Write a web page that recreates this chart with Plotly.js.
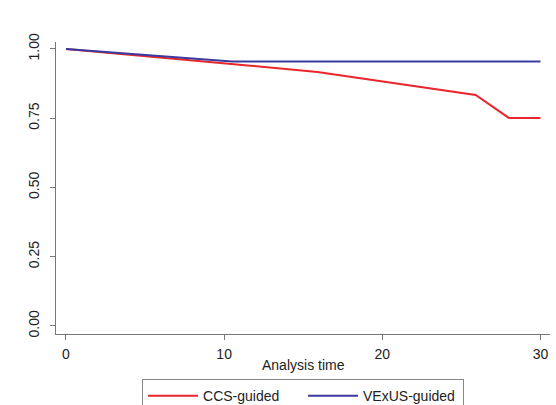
<!DOCTYPE html>
<html><head><meta charset="utf-8">
<script src="https://cdn.plot.ly/plotly-3.0.1.min.js"></script>
<style>html,body{margin:0;padding:0;background:#fff}#chart{width:556px;height:405px}</style>
</head><body><div id="chart"></div>
<script>
const ccsTime = [0, 15.9, 25.9, 28.0, 30];
const ccsSurv = [1.0, 0.917, 0.834, 0.751, 0.751];
const vexusTime = [0, 10.5, 30];
const vexusSurv = [1.0, 0.955, 0.955];
const yTicks = [0, 0.25, 0.5, 0.75, 1.0];
const xTicks = [0, 10, 20, 30];
const xTitle = 'Analysis time';

const traces = [
  {x: ccsTime, y: ccsSurv, type: 'scatter', mode: 'lines', name: 'CCS-guided',
   line: {color: '#e8262c', width: 2}},
  {x: vexusTime, y: vexusSurv, type: 'scatter', mode: 'lines', name: 'VExUS-guided',
   line: {color: '#3b3a9e', width: 2}}
];
const layout = {
  width: 556, height: 405,
  margin: {l: 56, r: 6, t: 42, b: 71},
  paper_bgcolor: '#fff', plot_bgcolor: '#fff',
  font: {family: 'Liberation Sans, Arial, sans-serif', color: '#222', size: 14},
  showlegend: true,
  legend: {orientation: 'h', xref: 'container', yref: 'container', x: 0.545, xanchor: 'center',
    y: 0.064, yanchor: 'top',
    itemwidth: 50, entrywidth: 95, bordercolor: '#888', borderwidth: 1,
    font: {size: 14, color: '#222'}},
  xaxis: {range: [-0.63, 30.6], tickvals: xTicks, showgrid: false, zeroline: false,
    automargin: false,
    showline: true, linecolor: '#777', linewidth: 1, ticks: 'outside', ticklen: 5,
    tickcolor: '#777', ticklabelstandoff: 2, tickfont: {size: 14}},
  yaxis: {range: [-0.029, 1.025], tickvals: yTicks, tickformat: '.2f', tickangle: -90,
    automargin: false,
    showgrid: false, zeroline: false, showline: true, linecolor: '#777', linewidth: 1,
    ticks: 'outside', ticklen: 5, tickcolor: '#777', ticklabelstandoff: 5, tickfont: {size: 14}},
  annotations: [{text: xTitle, xref: 'paper', yref: 'paper', x: 0.5, y: -0.106,
    xanchor: 'center', yanchor: 'middle', showarrow: false, font: {size: 14, color: '#222'}}]
};
Plotly.newPlot('chart', traces, layout, {displayModeBar: false, staticPlot: true});
</script></body></html>
